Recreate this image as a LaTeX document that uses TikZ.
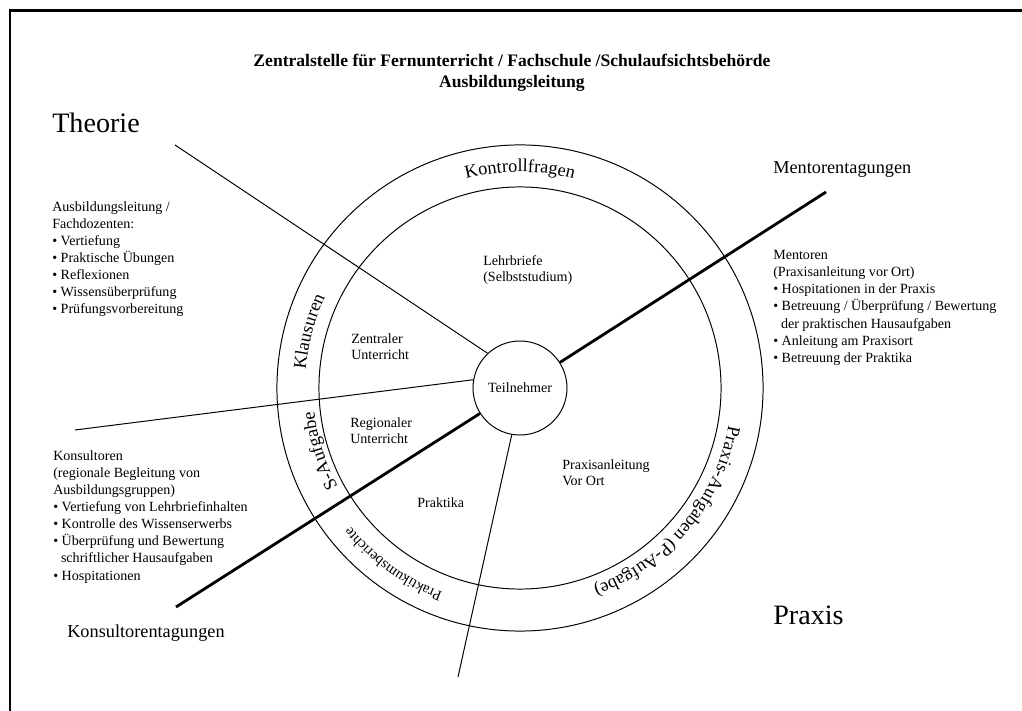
\documentclass[tikz,border=0pt]{standalone}
\usepackage{fontspec}
\setmainfont{Liberation Serif}
\usetikzlibrary{positioning,decorations.text}
\newcommand{\ringfont}{\fontsize{13}{15}\selectfont}

\begin{document}
\begin{tikzpicture}[x=0.025cm, y=0.025cm,
    ring/.style={line width=0.7pt},
    spoke/.style={line width=0.7pt},
    heavy/.style={line width=2pt},
    block/.style={anchor=north west, inner sep=0pt, align=left, font=\fontsize{10}{12.2}\selectfont},
    lbl/.style={anchor=north west, inner sep=0pt, align=left, font=\fontsize{10}{11.8}\selectfont},
    big/.style={anchor=west, inner sep=0pt, font=\fontsize{20}{24}\selectfont},
    meet/.style={anchor=base west, inner sep=0pt, font=\ringfont}
]
    \useasboundingbox (0,0) rectangle (1022,711);
    \draw[line width=2.1pt] (10,0) -- (10,700.5) -- (1022,700.5);

    \node[align=center, font=\bfseries\fontsize{12.5}{15}\selectfont] (title) at (512,638.5) {Zentralstelle für Fernunterricht / Fachschule /Schulaufsichtsbehörde\\Ausbildungsleitung};

    % rings
    \coordinate (c) at (520,323);
    \draw[ring] (c) circle[radius=6.075cm];
    \draw[ring] (c) circle[radius=5.025cm];
    \node[circle, draw, ring, minimum size=2.35cm, inner sep=0pt, font=\fontsize{10}{12}\selectfont] (teil) at (c) {Teilnehmer};

    % spokes
    \coordinate (theo) at (175,566);
    \coordinate (links) at (75,281);
    \coordinate (unten) at (458,34);
    \coordinate (kons) at (176,104);
    \coordinate (ment) at (826,519);
    \draw[spoke] (theo) -- (teil.133);
    \draw[spoke] (links) -- (teil.170);
    \draw[spoke] (teil.260) -- (unten);
    \draw[heavy] (kons) -- (teil);
    \draw[heavy] (teil) -- (ment);

    % texts in the outer ring
    \path[decorate, decoration={text along path, text align=center, text={|\ringfont|Kontrollfragen}}] (c) ++(150:5.4cm) arc[start angle=150, end angle=30, radius=5.4cm];
    \path[decorate, decoration={text along path, text align=center, text={|\ringfont|Klausuren}}] (c) ++(200:5.375cm) arc[start angle=200, end angle=130, radius=5.375cm];
    \path[decorate, decoration={text along path, text align=center, text={|\ringfont|S-Aufgabe}}] (c) ++(232.5:5.175cm) arc[start angle=232.5, end angle=162.5, radius=5.175cm];
    \path[decorate, decoration={text along path, text align=center, text={|\fontsize{10.5}{12}\selectfont|Praktikumsberichte}}] (c) ++(269.3:5.475cm) arc[start angle=269.3, end angle=199.3, radius=5.475cm];
    \path[decorate, decoration={text along path, text align=center, text={|\ringfont|Praxis-Aufgaben (P-Aufgabe)}}] (c) ++(355:5.3cm) arc[start angle=355, end angle=285, radius=5.3cm];

    % texts in the inner ring
    \node[lbl] (lehr) at (483,456) {Lehrbriefe\\(Selbststudium)};
    \node[lbl] (zentral) at (351,378) {Zentraler\\Unterricht};
    \node[lbl] (regio) at (350,294) {Regionaler\\Unterricht};
    \node[lbl] (prakt) at (417,214) {Praktika};
    \node[lbl] (anleit) at (562,252) {Praxisanleitung\\Vor Ort};

    % outside
    \node[big] (theorie) at (52,588) {Theorie};
    \node[big] (praxis) at (773,96) {Praxis};
    \node[meet] (mtag) at (773,537) {Mentorentagungen};
    \node[meet] (ktag) at (67,73) {Konsultorentagungen};
    \node[block] (fach) at (52,510) {Ausbildungsleitung /\\Fachdozenten:\\• Vertiefung\\• Praktische Übungen\\• Reflexionen\\• Wissensüberprüfung\\• Prüfungsvorbereitung};
    \node[block] (konsu) at (53,261) {Konsultoren\\(regionale Begleitung von\\Ausbildungsgruppen)\\• Vertiefung von Lehrbriefinhalten\\• Kontrolle des Wissenserwerbs\\• Überprüfung und Bewertung\\\hspace*{0.55em}schriftlicher Hausaufgaben\\• Hospitationen};
    \node[block] (mento) at (773,461) {Mentoren\\(Praxisanleitung vor Ort)\\• Hospitationen in der Praxis\\• Betreuung / Überprüfung / Bewertung\\\hspace*{0.55em}der praktischen Hausaufgaben\\• Anleitung am Praxisort\\• Betreuung der Praktika};
\end{tikzpicture}
\end{document}
